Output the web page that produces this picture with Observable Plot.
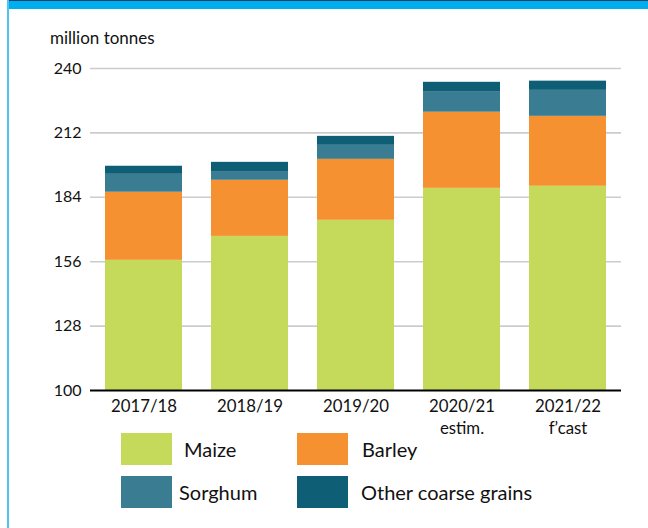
<!DOCTYPE html>
<html>
<head>
<meta charset="utf-8">
<script src="https://cdn.jsdelivr.net/npm/d3@7"></script>
<script src="https://cdn.jsdelivr.net/npm/@observablehq/plot@0.6"></script>
<style>
  html, body { margin: 0; padding: 0; background: #fff; }
  #wrap { position: relative; width: 648px; height: 528px; overflow: hidden; font-family: Lato, "Open Sans", sans-serif; color: #111; }
  #topbar { position: absolute; left: 7px; top: 0; width: 641px; height: 9px; background: #00AEEF; border-top: 1px solid #1B3F6B; box-sizing: border-box; }
  #leftbar { position: absolute; left: 7px; top: 0; width: 2px; height: 528px; background: #4DC3EF; }
  #unit { position: absolute; left: 50px; top: 27px; font-size: 17px; white-space: nowrap; }
  #chart { position: absolute; left: 0; top: 0; }
  .sw { position: absolute; width: 51px; height: 32px; }
  .lab { position: absolute; font-size: 20px; line-height: 32px; white-space: nowrap; }
</style>
</head>
<body>
<div id="wrap">
  <div id="topbar"></div>
  <div id="leftbar"></div>
  <div id="unit">million tonnes</div>
  <div id="chart"></div>
  <div id="legend"></div>
</div>
<script>
const categories = ["2017/18", "2018/19", "2019/20", "2020/21", "2021/22"];
const categoryLabels = ["2017/18", "2018/19", "2019/20", "2020/21\nestim.", "2021/22\nf\u2019cast"];
const series = ["Maize", "Barley", "Sorghum", "Other coarse grains"];
const colors = ["#C5DA5B", "#F59130", "#3A7C92", "#0E5E75"];
const maize = [156.6, 167.0, 174.0, 187.9, 188.8];
const barley = [29.6, 24.4, 26.5, 33.1, 30.4];
const sorghum = [7.8, 3.5, 6.1, 8.7, 11.3];
const other = [3.5, 4.3, 3.9, 4.3, 4.0];
const yTicks = [100, 128, 156, 184, 212, 240];

const valuesBySeries = [maize, barley, sorghum, other];
const data = [];
categories.forEach((c, i) => {
  series.forEach((s, j) => data.push({category: c, series: s, value: valuesBySeries[j][i]}));
});
const labelOf = new Map(categories.map((c, i) => [c, categoryLabels[i]]));

const chart = Plot.plot({
  width: 648,
  height: 440,
  marginLeft: 90,
  marginRight: 27,
  marginTop: 68,
  marginBottom: 50,
  style: {fontFamily: "Lato, 'Open Sans', sans-serif", fontSize: "16px", color: "#111", background: "transparent"},
  x: {domain: categories, paddingInner: 0.275, paddingOuter: 0.1375, label: null},
  y: {domain: [100, 240], label: null},
  color: {domain: series, range: colors},
  marks: [
    Plot.ruleY(yTicks.slice(1), {stroke: "#cccccc", strokeWidth: 1.6}),
    Plot.barY(data, {x: "category", y: "value", fill: "series", order: series, clip: true}),
    Plot.ruleY([100], {stroke: "#000", strokeWidth: 2.2}),
    Plot.axisY({ticks: yTicks, tickSize: 0, tickPadding: 9, label: null, fontSize: 16}),
    Plot.axisX({tickSize: 0, tickPadding: 6, label: null, fontSize: 16.8, lineHeight: 1.3, tickFormat: d => labelOf.get(d)})
  ]
});
document.getElementById("chart").appendChild(chart);

// legend
const legend = document.getElementById("legend");
const pos = [
  {sx: 121, sy: 433, tx: 184},
  {sx: 297, sy: 433, tx: 362},
  {sx: 121, sy: 476, tx: 179},
  {sx: 297, sy: 476, tx: 361}
];
series.forEach((s, i) => {
  const sw = document.createElement("div");
  sw.className = "sw";
  sw.style.left = pos[i].sx + "px";
  sw.style.top = pos[i].sy + "px";
  sw.style.background = colors[i];
  legend.appendChild(sw);
  const t = document.createElement("div");
  t.className = "lab";
  t.style.left = pos[i].tx + "px";
  t.style.top = pos[i].sy + "px";
  t.textContent = s;
  legend.appendChild(t);
});
</script>
</body>
</html>
